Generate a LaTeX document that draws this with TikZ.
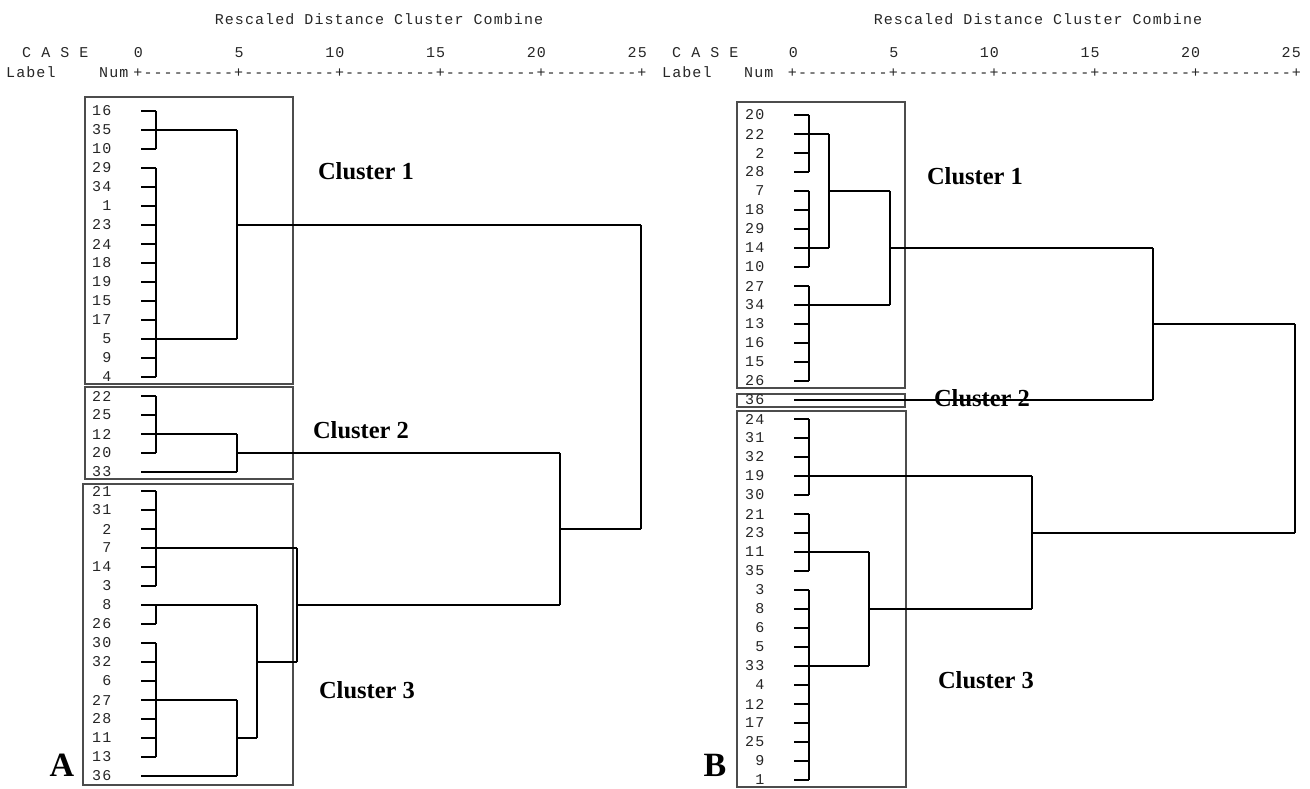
\documentclass[tikz,border=0pt]{standalone}
\usepackage{fontspec}
\newfontfamily\dendromono[LetterSpace=7.2]{Liberation Mono}
\newfontfamily\dendroserif{Liberation Serif}
\usetikzlibrary{fit}
\tikzset{
  casenum/.style = {font={\dendromono\fontsize{15}{17}\selectfont}, anchor=east, inner sep=0pt, text=black!85},
  headtext/.style = {font={\dendromono\fontsize{15}{17}\selectfont}, inner sep=0pt, text=black!85},
  clustertag/.style = {font={\dendroserif\bfseries\fontsize{24.5}{26}\selectfont}, inner sep=0pt},
  paneltag/.style = {font={\dendroserif\bfseries\fontsize{34}{36}\selectfont}, inner sep=0pt},
  clusterbox/.style = {draw=black!70, line width=1.4pt, inner sep=0pt},
  link/.style = {draw=black, line width=1.1pt}
}

\begin{document}
\begin{tikzpicture}[x=1pt, y=-1pt]
\useasboundingbox (0,0) rectangle (1310,789);

% Headers
\node[headtext] (titleA) at (379,19) {Rescaled Distance Cluster Combine};
\node[headtext] (titleB) at (1038,19) {Rescaled Distance Cluster Combine};
\node[headtext, anchor=base west] (caseA) at (22,58) {C A S E};
\node[headtext, anchor=base west] (caseB) at (672,58) {C A S E};
\node[headtext, anchor=base west] (labelA) at (6,78) {Label};
\node[headtext, anchor=base west] (labelB) at (662,78) {Label};
\node[headtext, anchor=base west] (numA) at (99,78) {Num};
\node[headtext, anchor=base west] (numB) at (744,78) {Num};
\node[headtext, anchor=base] (axisA) at (390,78) {+---------+---------+---------+---------+---------+};
\node[headtext, anchor=base] (axisB) at (1044.5,78) {+---------+---------+---------+---------+---------+};
\foreach \d [count=\k from 0] in {0,5,10,15,20,25} {
  \node[headtext, anchor=base east] (sa\k) at ({143+100.8*\k},58) {\d};
  \node[headtext, anchor=base east] (sb\k) at ({798+100.6*\k},58) {\d};
}

% Cluster boxes
\node[clusterbox, fit={(85,97) (293,384)}] (boxA1) {};
\node[clusterbox, fit={(85,387) (293,479)}] (boxA2) {};
\node[clusterbox, fit={(83,484) (293,785)}] (boxA3) {};
\node[clusterbox, fit={(737,102) (905,388)}] (boxB1) {};
\node[clusterbox, fit={(737,394) (905,407)}] (boxB2) {};
\node[clusterbox, fit={(737,411) (906,787)}] (boxB3) {};

\node[clustertag] (tagA1) at (366,171) {Cluster 1};
\node[clustertag] (tagA2) at (361,430) {Cluster 2};
\node[clustertag] (tagA3) at (367,690) {Cluster 3};
\node[clustertag] (tagB1) at (975,176) {Cluster 1};
\node[clustertag] (tagB2) at (982,398) {Cluster 2};
\node[clustertag] (tagB3) at (986,680) {Cluster 3};

\node[paneltag] (panelA) at (62,765) {A};
\node[paneltag] (panelB) at (715,765) {B};

% Case labels and ticks
\foreach \lab [count=\i from 0] in {16,35,10,29,34,1,23,24,18,19,15,17,5,9,4,22,25,12,20,33,21,31,2,7,14,3,8,26,30,32,6,27,28,11,13,36} {
  \node[casenum] (ca\i) at (111.5,{111+19*\i}) {\lab};
  \coordinate (ta\i) at (141,{111+19*\i});
  \draw[link] (ta\i) -- ++(15,0);
}
\foreach \lab [count=\i from 0] in {20,22,2,28,7,18,29,14,10,27,34,13,16,15,26,36,24,31,32,19,30,21,23,11,35,3,8,6,5,33,4,12,17,25,9,1} {
  \node[casenum] (cb\i) at (764.5,{115+19*\i}) {\lab};
  \coordinate (tb\i) at (794,{115+19*\i});
  \draw[link] (tb\i) -- ++(15,0);
}

% Panel A joins
\foreach \cx/\ra/\rb/\ro/\tx in {156/0/2/1/237, 156/3/14/12/237, 237/1/12/6/641, 156/15/18/17/237, 237/17/19/18/560, 156/20/25/23/297, 156/26/27/26/257, 156/28/34/31/237, 237/31/35/33/257, 257/26/33/29/297, 297/23/29/26/560, 560/18/26/22/641}
  \draw[link] (ta\ra -| \cx,0) -- (ta\rb -| \cx,0) (ta\ro -| \cx,0) -- (ta\ro -| \tx,0);
\draw[link] (ta19) -- (ta19 -| 237,0);
\draw[link] (ta35) -- (ta35 -| 237,0);
\draw[link] (ta6 -| 641,0) -- (ta22 -| 641,0);

% Panel B joins
\foreach \cx/\ra/\rb/\ro/\tx in {809/0/3/1/829, 809/4/8/7/829, 829/1/7/4/890, 809/9/14/10/890, 890/4/10/7/1153, 1153/7/15/11/1295, 809/16/20/19/1032, 809/21/24/23/869, 809/25/35/29/869, 869/23/29/26/1032, 1032/19/26/22/1295}
  \draw[link] (tb\ra -| \cx,0) -- (tb\rb -| \cx,0) (tb\ro -| \cx,0) -- (tb\ro -| \tx,0);
\draw[link] (tb15) -- (tb15 -| 1153,0);
\draw[link] (tb11 -| 1295,0) -- (tb22 -| 1295,0);

\end{tikzpicture}
\end{document}
